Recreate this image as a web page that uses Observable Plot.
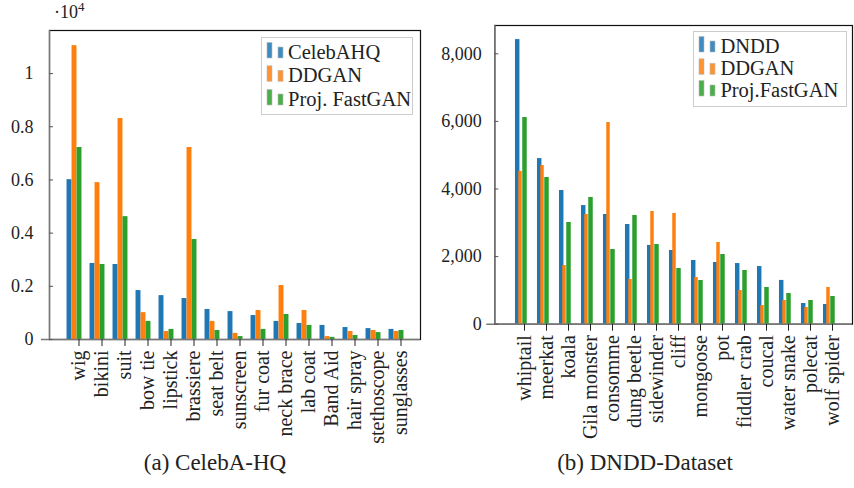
<!DOCTYPE html>
<html>
<head>
<meta charset="utf-8">
<script src="https://cdn.jsdelivr.net/npm/d3@7"></script>
<script src="https://cdn.jsdelivr.net/npm/@observablehq/plot@0.6"></script>
<style>
  html, body { margin: 0; padding: 0; background: #fff; }
  #wrap { position: relative; width: 854px; height: 488px; font-family: "Liberation Serif", serif; color: #222; overflow: hidden; }
  .panel { position: absolute; top: 0; }
  .cap { position: absolute; font-size: 23px; transform: translateX(-50%); white-space: nowrap; }
  .legend { position: absolute; background: #fff; border: 1px solid #ccc; box-sizing: border-box; }
</style>
</head>
<body>
<div id="wrap">
  <div id="a" class="panel" style="left:0"></div>
  <div id="b" class="panel" style="left:427px"></div>
  <div style="position:absolute;left:54px;top:2px;font-size:18px;">·10<sup style="font-size:13px;vertical-align:7px;line-height:0">4</sup></div>
  <div class="cap" style="left:215px;top:450px">(a) CelebA-HQ</div>
  <div class="cap" style="left:645px;top:450px">(b) DNDD-Dataset</div>
</div>
<script>
// ---------- Data ----------
const catsA = ["wig","bikini","suit","bow tie","lipstick","brassiere","seat belt","sunscreen","fur coat","neck brace","lab coat","Band Aid","hair spray","stethoscope","sunglasses"];
const seriesA = ["CelebAHQ","DDGAN","Proj. FastGAN"];
const celebA = [6010,2860,2820,1840,1650,1540,1130,1050,900,680,600,530,450,410,380];
const ddganA = [11050,5900,8310,1010,300,7220,680,230,1090,2030,1090,110,300,340,300];
const fastA  = [7220,2820,4620,680,380,3760,340,110,380,940,530,80,150,260,340];
const yTicksA = [0,2000,4000,6000,8000,10000];

const catsB = ["whiptail","meerkat","koala","Gila monster","consomme","dung beetle","sidewinder","cliff","mongoose","pot","fiddler crab","coucal","water snake","polecat","wolf spider"];
const seriesB = ["DNDD","DDGAN","Proj.FastGAN"];
const dndd   = [8420,4900,3955,3510,3245,2950,2330,2180,1885,1825,1795,1705,1295,612,583];
const ddganB = [4520,4695,1737,3246,5967,1322,3334,3275,1382,2417,997,553,701,494,1086];
const fastB  = [6115,4340,3009,3749,2210,3216,2358,1648,1293,2062,1589,1086,908,701,820];
const yTicksB = [0,2000,4000,6000,8000];

const colors = ["#1f77b4","#ff7f0e","#2ca02c"];

function table(cats, series, arrays) {
  const rows = [];
  series.forEach((s, si) => cats.forEach((c, ci) => rows.push({cat: c, series: s, si, value: arrays[si][ci]})));
  return rows;
}

function panel(opts) {
  const {cats, series, arrays, yMax, yTicks, tickFormat, marginLeft, marginTop, marginRight, marginBottom,
         xRange, step, widths, dxs, tickPad} = opts;
  const rows = table(cats, series, arrays);
  const marks = [
    Plot.frame({stroke: "#111", strokeWidth: 1.2}),
  ];
  series.forEach((s, si) => {
    const inset = (step - widths[si]) / 2;
    marks.push(Plot.barY(rows.filter(d => d.si === si), {
      x: "cat", y: "value", fill: colors[si],
      insetLeft: inset, insetRight: inset, dx: dxs[si]
    }));
  });
  marks.push(
    Plot.frame({anchor: "left", stroke: "#777", strokeWidth: 1.4}),
    Plot.ruleY([0], {stroke: "#777", strokeWidth: 1.4, insetLeft: -8}),
    Plot.axisY({ticks: yTicks, tickFormat, tickSize: -4, tickPadding: tickPad + 4, stroke: "#555", fontSize: 18}),
    Plot.axisX({tickRotate: -90, tickSize: 7, tickPadding: 4, stroke: "#222", fontSize: 20})
  );
  return Plot.plot({
    width: 427, height: 445,
    marginLeft, marginTop, marginRight, marginBottom,
    style: {fontFamily: "'Liberation Serif', serif", fontSize: "18px", color: "#222", background: "transparent", overflow: "visible"},
    x: {type: "band", domain: cats, range: xRange, padding: 0, label: null},
    y: {domain: [0, yMax], label: null},
    marks
  });
}

const stepA = (401 - 78) / 14;
document.getElementById("a").appendChild(panel({
  cats: catsA, series: seriesA, arrays: [celebA, ddganA, fastA],
  yMax: 11620, yTicks: yTicksA, tickFormat: d => d3.format("~g")(d / 1e4),
  marginLeft: 49, marginTop: 30, marginRight: 7, marginBottom: 106,
  xRange: [78 - stepA / 2, 401 + stepA / 2], step: stepA,
  widths: [5, 5, 5], dxs: [-9.5, -4.5, 0.5], tickPad: 16
}));

const stepB = (835.3 - 520) / 14;
const offB = 427;
document.getElementById("b").appendChild(panel({
  cats: catsB, series: seriesB, arrays: [dndd, ddganB, fastB],
  yMax: 8837, yTicks: yTicksB, tickFormat: d3.format(","),
  marginLeft: 494.3 - offB, marginTop: 25, marginRight: 2, marginBottom: 121.3,
  xRange: [520 - offB - stepB / 2, 835.3 - offB + stepB / 2], step: stepB,
  widths: [5, 4, 5], dxs: [-6.8, -4, 0.5], tickPad: 13
}));

// ---------- Legends ----------
function legend(series, left, top, w, h, rowY, textX, fs) {
  const div = document.createElement("div");
  div.className = "legend";
  div.style.left = left + "px"; div.style.top = top + "px";
  div.style.width = w + "px"; div.style.height = h + "px";
  const svgns = "http://www.w3.org/2000/svg";
  const svg = document.createElementNS(svgns, "svg");
  svg.setAttribute("width", w); svg.setAttribute("height", h);
  svg.style.position = "absolute"; svg.style.left = "-1px"; svg.style.top = "-1px";
  series.forEach((s, i) => {
    const cy = rowY[i];
    [[6, 5, 15.5], [17, 5, 11]].forEach(([x, bw, bh]) => {
      const r = document.createElementNS(svgns, "rect");
      r.setAttribute("x", x); r.setAttribute("y", cy + 6 - bh);
      r.setAttribute("width", bw); r.setAttribute("height", bh);
      r.setAttribute("fill", colors[i]); r.setAttribute("fill-opacity", 0.85);
      r.setAttribute("stroke", "#bbb"); r.setAttribute("stroke-width", 0.6);
      svg.appendChild(r);
    });
    const t = document.createElementNS(svgns, "text");
    t.setAttribute("x", textX); t.setAttribute("y", cy);
    t.setAttribute("dy", "0.35em");
    t.setAttribute("font-family", "Liberation Serif, serif");
    t.setAttribute("font-size", fs + "px"); t.setAttribute("fill", "#222");
    t.textContent = s;
    svg.appendChild(t);
  });
  div.appendChild(svg);
  document.getElementById("wrap").appendChild(div);
}
legend(seriesA, 260.7, 36.7, 152, 78.3, [15, 38.3, 62], 27, 20.5);
legend(seriesB, 693.3, 31, 153.4, 76.3, [15, 37.3, 59], 27.4, 20.5);
</script>
</body>
</html>
